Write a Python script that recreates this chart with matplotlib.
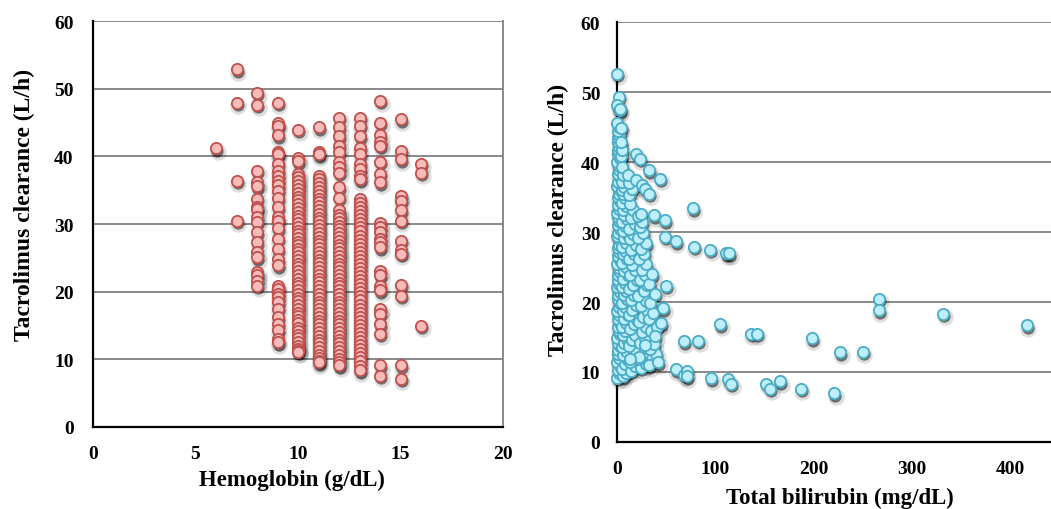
import numpy as np
import matplotlib
matplotlib.use("Agg")
import matplotlib.pyplot as plt
from matplotlib.transforms import offset_copy

plt.rcParams['font.family'] = ['Liberation Serif', 'DejaVu Serif']
plt.rcParams['font.weight'] = 'bold'

# ---- left panel: clearance values per hemoglobin level (g/dL) ----
cl_hb6 = [41.2]
cl_hb7 = [52.9, 47.9, 36.4, 30.5]
cl_hb8 = [49.4, 47.6, 37.9, 36.2, 35.6, 33.7, 32.5, 32.2, 31.0, 30.3, 28.8, 27.3,
          25.8, 25.1, 22.9, 22.4, 21.6, 20.9]
cl_hb9 = [47.9, 44.9, 44.5, 43.1, 40.6, 40.3, 38.9, 37.9, 37.1, 36.4, 35.7, 34.9,
          33.8, 32.5, 31.0, 30.5, 29.4, 27.8, 26.3, 24.8, 23.9, 20.9, 20.4, 19.7,
          19.2, 18.4, 17.5, 16.2, 15.2, 14.3, 13.0, 12.5]
cl_hb10 = [43.9, 39.8, 39.3, 37.4, 36.9, 36.3, 35.8, 35.2, 34.6, 34.0, 33.5, 33.0,
           32.4, 31.8, 31.2, 30.7, 30.1, 29.6, 29.0, 28.5, 28.0, 27.4, 26.9, 26.3,
           25.8, 25.2, 24.7, 24.1, 23.6, 23.0, 22.4, 21.9, 21.3, 20.8, 20.2, 19.7,
           19.1, 18.6, 18.0, 17.5, 16.9, 16.4, 15.8, 15.3, 14.7, 14.2, 13.6, 13.1,
           12.5, 12.0, 11.6, 11.3, 11.1]
cl_hb11 = [44.3, 40.6, 40.3, 37.1, 36.6, 36.0, 35.4, 34.9, 34.3, 33.7, 33.2, 32.6,
           32.0, 31.5, 30.9, 30.4, 29.8, 29.2, 28.7, 28.1, 27.5, 27.0, 26.4, 25.9,
           25.3, 24.7, 24.2, 23.6, 23.0, 22.5, 21.9, 21.4, 20.8, 20.2, 19.7, 19.1,
           18.5, 18.0, 17.4, 16.9, 16.3, 15.7, 15.2, 14.6, 14.0, 13.5, 12.9, 12.4,
           11.8, 11.2, 10.7, 10.2, 9.8, 9.6]
cl_hb12 = [45.7, 44.3, 43.0, 41.6, 40.6, 39.1, 38.4, 37.6, 35.4, 33.9, 32.0, 31.4,
           30.9, 30.3, 29.7, 29.2, 28.6, 28.1, 27.5, 26.9, 26.4, 25.8, 25.3, 24.7,
           24.1, 23.6, 23.0, 22.5, 21.9, 21.3, 20.8, 20.2, 19.7, 19.1, 18.5, 18.0,
           17.4, 16.9, 16.3, 15.7, 15.2, 14.6, 14.1, 13.5, 12.9, 12.4, 11.8, 11.3,
           10.7, 10.1, 9.6, 9.1]
cl_hb13 = [45.7, 44.5, 43.0, 41.3, 40.3, 38.9, 38.1, 37.1, 36.6, 33.7, 33.1, 32.5,
           31.9, 31.3, 30.7, 30.1, 29.5, 28.9, 28.3, 27.7, 27.1, 26.5, 25.9, 25.3,
           24.7, 24.1, 23.5, 22.9, 22.3, 21.7, 21.1, 20.5, 19.9, 19.3, 18.7, 18.1,
           17.5, 16.9, 16.3, 15.7, 15.1, 14.5, 13.9, 13.3, 12.7, 12.1, 11.5, 10.9,
           10.3, 9.7, 9.0, 8.4]
cl_hb14 = [48.2, 45.0, 43.1, 42.1, 41.6, 39.2, 37.4, 36.2, 30.2, 29.5, 28.8, 27.8,
           27.3, 26.6, 23.1, 22.4, 20.9, 20.2, 17.5, 16.7, 15.2, 13.8, 9.1, 7.6]
cl_hb15 = [45.5, 40.8, 39.6, 34.2, 33.4, 32.0, 30.5, 27.5, 26.1, 25.6, 21.0, 19.4,
           9.1, 7.1]
cl_hb16 = [38.9, 37.6, 15.0]

hb_levels = [6, 7, 8, 9, 10, 11, 12, 13, 14, 15, 16]
hb_columns = [cl_hb6, cl_hb7, cl_hb8, cl_hb9, cl_hb10, cl_hb11, cl_hb12, cl_hb13,
              cl_hb14, cl_hb15, cl_hb16]

# ---- right panel: (total bilirubin, clearance) pairs ----
tb_band_a = [(0.5, 9.2), (2.0, 9.8), (1.0, 10.3), (3.0, 10.9), (0.2, 11.4), (2.5, 12.0),
             (1.5, 12.6), (0.8, 13.1), (3.5, 13.7), (1.2, 14.2), (0.4, 14.8), (2.8, 15.4),
             (1.8, 15.9), (0.6, 16.5), (3.2, 17.0), (1.0, 17.6), (2.2, 18.2), (0.3, 18.7),
             (1.6, 19.3), (2.9, 19.8), (0.7, 20.4), (1.3, 21.0), (3.4, 21.5), (0.5, 22.1),
             (2.1, 22.6), (1.1, 23.2), (0.9, 23.8), (2.6, 24.3), (1.7, 24.9), (0.4, 25.4),
             (3.1, 26.0), (1.4, 26.6), (2.3, 27.1), (0.6, 27.7), (1.9, 28.2), (2.7, 28.8),
             (0.2, 29.4), (1.2, 29.9), (3.3, 30.5), (0.8, 31.0), (2.0, 31.6), (1.5, 32.2),
             (0.5, 32.7), (2.4, 33.3), (1.0, 33.8), (3.0, 34.4), (0.7, 35.0), (1.8, 35.5),
             (2.5, 36.1), (0.3, 36.6), (1.3, 37.2), (2.9, 37.8), (0.9, 38.3), (2.1, 38.9),
             (1.6, 39.4), (0.4, 40.0), (2.6, 40.6), (1.1, 41.1), (0.6, 41.7), (2.2, 42.2),
             (1.4, 42.8), (0.8, 43.4), (1.9, 43.9), (1.0, 44.5), (2.4, 45.0), (0.5, 45.6)]
tb_band_b = [(6, 9.4), (9, 9.9), (5, 10.5), (8, 11.2), (10, 11.8), (6, 12.4), (9, 13.0),
             (5, 13.6), (7, 14.1), (10, 14.7), (6, 15.3), (8, 15.9), (5, 16.4), (9, 17.0),
             (7, 17.6), (11, 18.1), (6, 18.7), (8, 19.3), (5, 19.9), (10, 20.4), (7, 21.0),
             (9, 21.6), (5, 22.2), (8, 22.7), (6, 23.3), (11, 23.9), (7, 24.5), (9, 25.0),
             (5, 25.6), (10, 26.2), (6, 26.8), (8, 27.3), (5, 27.9), (9, 28.5), (7, 29.1),
             (11, 29.6), (6, 30.2), (8, 30.8), (5, 31.4), (10, 31.9), (7, 32.5), (6, 33.1),
             (9, 33.7), (5, 34.2), (8, 34.8), (6, 35.4), (5, 36.0), (7, 36.5), (5, 37.1),
             (6, 38.2), (5, 39.3), (4, 40.8), (5, 41.7), (4, 42.8), (4, 44.9), (3, 47.4)]
tb_band_c = [(14, 10.2), (18, 10.8), (13, 11.5), (16, 12.3), (19, 13.0), (12, 13.7),
             (15, 14.6), (18, 15.3), (13, 16.1), (17, 16.8), (20, 17.4), (12, 18.2),
             (15, 18.9), (19, 19.6), (14, 20.3), (17, 21.0), (12, 21.8), (16, 22.5),
             (20, 23.1), (13, 23.9), (18, 24.6), (15, 25.3), (12, 26.1), (17, 26.8),
             (14, 27.5), (19, 28.2), (13, 29.0), (16, 29.7), (12, 30.5), (18, 31.2),
             (14, 32.0), (16, 33.1), (13, 34.0), (12, 35.3), (15, 36.2), (12, 37.0)]
tb_band_d = [(24, 10.6), (29, 11.2), (22, 11.9), (27, 12.7), (31, 13.4), (23, 14.1),
             (28, 14.9), (25, 15.7), (30, 16.4), (22, 17.2), (26, 17.9), (32, 18.6),
             (24, 19.4), (29, 20.1), (21, 20.9), (27, 21.6), (31, 22.4), (23, 23.1),
             (28, 23.9), (25, 24.6), (30, 25.4), (22, 26.1), (27, 26.9), (24, 27.6),
             (29, 28.4), (21, 29.2), (26, 29.9), (23, 30.7), (25, 31.5), (21, 32.3)]
tb_band_e = [(36, 11.8), (40, 12.6), (34, 13.3), (38, 14.0), (35, 15.8), (41, 16.5),
             (33, 17.6), (37, 18.4), (34, 19.8), (39, 21.2), (33, 22.6), (36, 24.0)]
tb_outliers = [(0, 52.6), (2, 49.3), (0, 48.1), (2.7, 47.6), (19, 41.2), (23, 40.5),
               (33, 38.8), (44, 37.6), (11.5, 38.1), (19.7, 37.4), (25, 36.7), (28, 36.2),
               (33, 35.5), (77, 33.4), (24, 32.6), (38, 32.4), (48.6, 31.7), (49, 29.3),
               (60, 28.7), (78, 27.9), (95, 27.5), (111, 27.0), (114, 27.0), (50, 22.3),
               (47, 19.1), (45, 17.0), (105, 16.8), (68, 14.4), (82.5, 14.5), (136, 15.5),
               (142, 15.5), (198, 14.8), (227, 12.8), (250, 12.9), (267, 20.5),
               (266.5, 18.8), (332, 18.3), (417, 16.7), (60, 10.4), (68, 9.6), (71, 10.1),
               (71, 9.4), (96, 9.1), (113, 9.0), (116, 8.3), (152, 8.3), (156, 7.6),
               (166, 8.7), (187, 7.6), (221, 7.0), (33, 11.0), (42, 11.4), (22, 12.1),
               (13.6, 11.9), (28, 13.8), (39, 15.1)]


def shaded_scatter(ax, x, y, face, edge):
    # soft black drop shadow under each marker, like the Excel original
    sh1 = offset_copy(ax.transData, fig=fig, x=1.5, y=-3.5, units='dots')
    sh2 = offset_copy(ax.transData, fig=fig, x=1, y=-2.5, units='dots')
    ax.scatter(x, y, s=140, color='black', alpha=0.13, lw=0, transform=sh1,
               zorder=2, clip_on=False)
    ax.scatter(x, y, s=78, color='black', alpha=0.5, lw=0, transform=sh2,
               zorder=2, clip_on=False)
    ax.scatter(x, y, s=66, facecolor=face, edgecolor=edge, linewidth=1.3,
               zorder=3, clip_on=False)


def style_axes(ax, right_frame):
    ax.set_ylim(0, 60)
    ax.set_yticks(range(0, 61, 10))
    ax.yaxis.grid(True, color='#808080', lw=1.3)
    ax.set_axisbelow(True)
    for side in ['left', 'bottom']:
        ax.spines[side].set_color('black')
        ax.spines[side].set_linewidth(1.6)
    ax.spines['top'].set_visible(False)
    ax.spines['right'].set_visible(right_frame)
    ax.spines['right'].set_color('#808080')
    ax.spines['right'].set_linewidth(1.3)
    ax.tick_params(length=0, labelsize=14)
    for lab in ax.get_xticklabels() + ax.get_yticklabels():
        lab.set_fontweight('bold')


W, H = 1051, 510
fig = plt.figure(figsize=(W / 100, H / 100), dpi=100)

# left panel
ax1 = fig.add_axes([93 / W, (H - 428) / H, 410 / W, 406 / H])
hb_x = np.concatenate([[lvl] * len(col) for lvl, col in zip(hb_levels, hb_columns)])
hb_y = np.concatenate(hb_columns)
shaded_scatter(ax1, hb_x, hb_y, '#f7bcba', '#c0504d')
ax1.set_xlim(0, 20)
ax1.set_xticks([0, 5, 10, 15, 20])
style_axes(ax1, True)
ax1.tick_params(axis='y', pad=14)
ax1.tick_params(axis='x', pad=13)

# right panel (x axis runs past the figure edge, as in the original)
ax2 = fig.add_axes([617 / W, (H - 443) / H, 491.5 / W, 420 / H])
tb_all = np.array(tb_band_a + tb_band_b + tb_band_c + tb_band_d + tb_band_e + tb_outliers)
shaded_scatter(ax2, tb_all[:, 0], tb_all[:, 1], '#bdeefa', '#4bacc6')
ax2.set_xlim(0, 500)
ax2.set_xticks([0, 100, 200, 300, 400])
style_axes(ax2, False)
ax2.tick_params(axis='y', pad=12)
ax2.tick_params(axis='x', pad=13)

# axis titles
fig.text(292 / W, 1 - 480 / H, 'Hemoglobin (g/dL)', ha='center', va='center',
         fontsize=16.5, fontweight='bold')
fig.text(24 / W, 1 - 205 / H, 'Tacrolimus clearance (L/h)', ha='center', va='center',
         rotation=90, fontsize=17, fontweight='bold')
fig.text(840 / W, 1 - 498 / H, 'Total bilirubin (mg/dL)', ha='center', va='center',
         fontsize=16.5, fontweight='bold')
fig.text(558 / W, 1 - 220 / H, 'Tacrolimus clearance (L/h)', ha='center', va='center',
         rotation=90, fontsize=17, fontweight='bold')

fig.savefig('out.png', dpi=100)
